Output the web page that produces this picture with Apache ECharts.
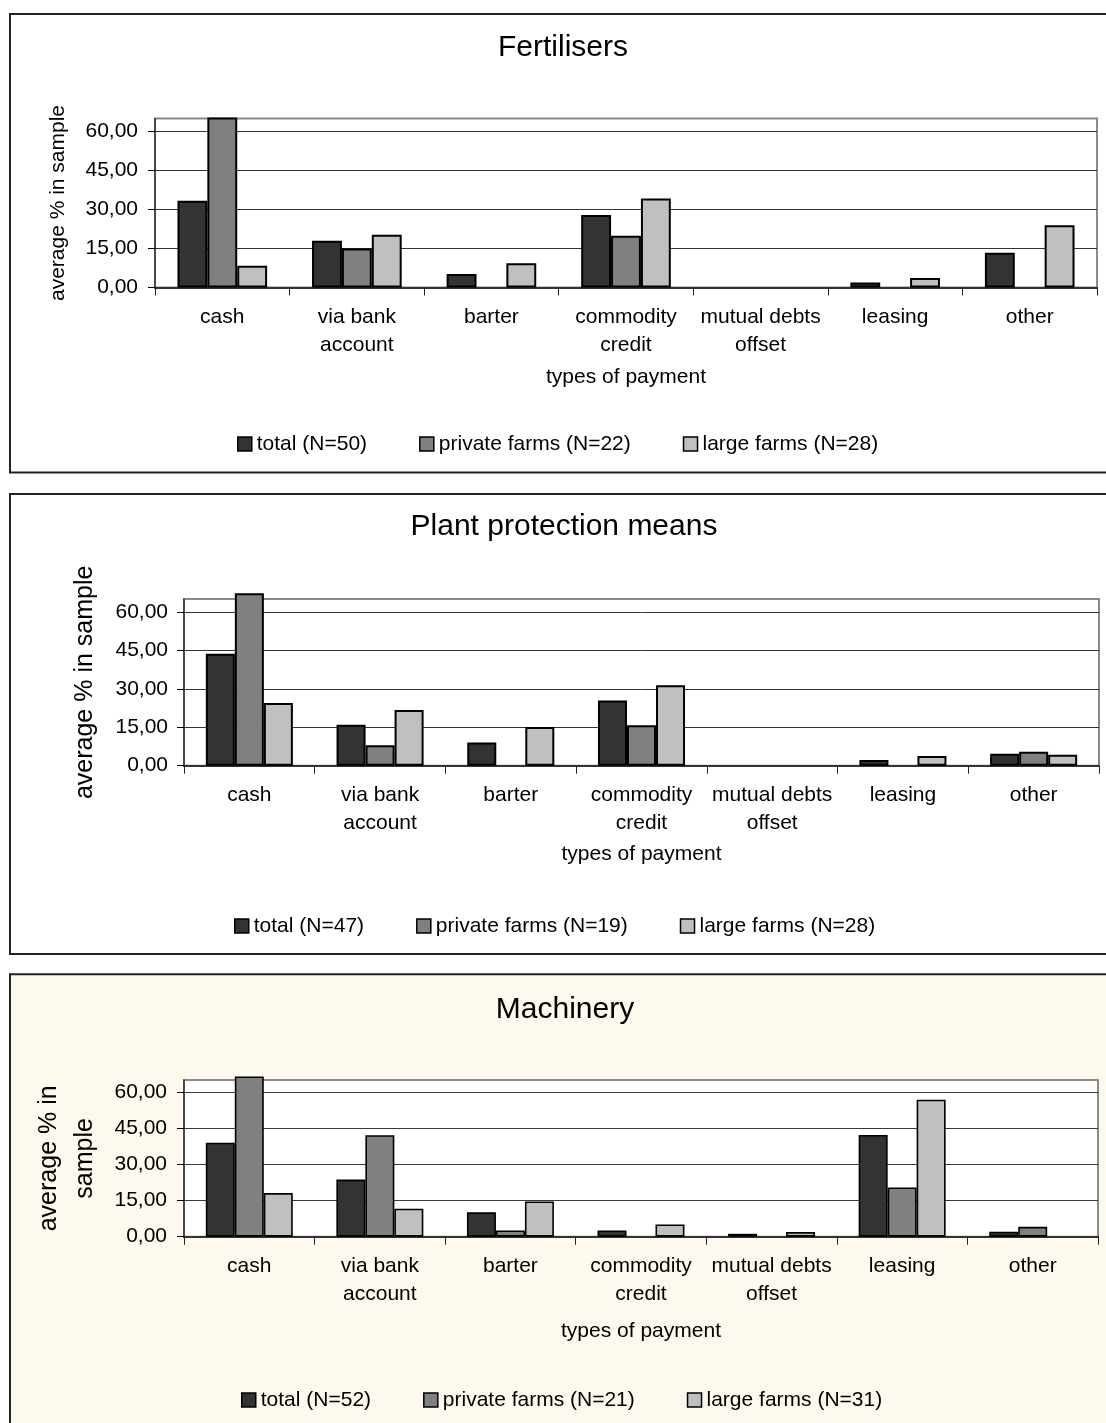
<!DOCTYPE html>
<html><head><meta charset="utf-8">
<script src="https://cdn.jsdelivr.net/npm/echarts@6/dist/echarts.min.js"></script>
<style>html,body{margin:0;padding:0;background:#fff;overflow:hidden}#c{width:1106px;height:1423px}</style>
</head><body><div id="c"></div>
<script>
// ---- data ----
const categories = ['cash', 'via bank\naccount', 'barter', 'commodity\ncredit', 'mutual debts\noffset', 'leasing', 'other'];
const yTicks = [0, 15, 30, 45, 60];
const xAxisTitle = 'types of payment';

const fertTitle = 'Fertilisers';
const fertNames = ['total (N=50)', 'private farms (N=22)', 'large farms (N=28)'];
const fertTotal = [33.4, 18.0, 5.2, 27.9, 0, 1.9, 13.4];
const fertPrivate = [65.4, 15.0, 0, 19.9, 0, 0, 0];
const fertLarge = [8.4, 20.3, 9.3, 34.2, 0, 3.7, 23.9];

const plantTitle = 'Plant protection means';
const plantNames = ['total (N=47)', 'private farms (N=19)', 'large farms (N=28)'];
const plantTotal = [43.7, 16.0, 9.0, 25.4, 0, 2.2, 4.7];
const plantPrivate = [67.2, 8.0, 0, 15.8, 0, 0, 5.4];
const plantLarge = [24.4, 21.7, 15.1, 31.4, 0, 3.8, 4.3];

const machTitle = 'Machinery';
const machNames = ['total (N=52)', 'private farms (N=21)', 'large farms (N=31)'];
const machTotal = [39.0, 23.7, 10.1, 2.6, 1.2, 42.2, 2.1];
const machPrivate = [66.5, 42.1, 2.6, 0, 0, 20.4, 4.1];
const machLarge = [18.1, 11.6, 14.6, 5.1, 1.9, 56.8, 0];

const yNameOneLine = 'average % in sample';
const yNameTwoLines = 'average % in\nsample';

// ---- layout / style ----
const FONT = '"Liberation Sans", Arial, sans-serif';
const seriesColors = ['#333333', '#808080', '#c0c0c0'];
const panels = [
  { title: fertTitle, names: fertNames, data: [fertTotal, fertPrivate, fertLarge],
    box: { x: 10, y: 14, h: 458.5 }, bg: '#ffffff',
    grid: { left: 155, top: 118.5, width: 942, height: 169 },
    titleX: 563, titleY: 48, legendLeft: 237, legendY: 444, barBorder: 2, gridColor: '#333',
    yName: yNameOneLine, yNameSize: 21, yNameGap: 85, yNameLH: 24, yLabelMargin: 17, xNameGap: 79 },
  { title: plantTitle, names: plantNames, data: [plantTotal, plantPrivate, plantLarge],
    box: { x: 10, y: 494, h: 460 }, bg: '#ffffff',
    grid: { left: 184, top: 599, width: 915, height: 166.7 },
    titleX: 564, titleY: 527, legendLeft: 234, legendY: 926, barBorder: 2, gridColor: '#333',
    yName: yNameOneLine, yNameSize: 25, yNameGap: 85, yNameLH: 28, yLabelMargin: 16, xNameGap: 78 },
  { title: machTitle, names: machNames, data: [machTotal, machPrivate, machLarge],
    box: { x: 10, y: 974.3, h: 480 }, bg: '#fef9ef',
    grid: { left: 184, top: 1080, width: 914, height: 156.7 },
    titleX: 565, titleY: 1010, legendLeft: 241, legendY: 1400, barBorder: 1.6, gridColor: '#3a3a3a',
    yName: yNameTwoLines, yNameSize: 25, yNameGap: 80, yNameLH: 36, yLabelMargin: 17, xNameGap: 84 }
];

const grid = [], xAxis = [], yAxis = [], series = [], legend = [], graphic = [];
panels.forEach((p, i) => {
  graphic.push({ type: 'rect', z: -10, silent: true,
    shape: { x: p.box.x, y: p.box.y, width: 1120, height: p.box.h },
    style: { fill: p.bg, stroke: '#222', lineWidth: 2 } });
  graphic.push({ type: 'text', z: 10, silent: true,
    style: { text: p.title, x: p.titleX, y: p.titleY, fill: '#000',
      font: '30px ' + FONT, textAlign: 'center', textVerticalAlign: 'middle' } });
  grid.push(Object.assign({ show: true, backgroundColor: '#ffffff', borderColor: '#8a8a8a', borderWidth: 2 }, p.grid));
  xAxis.push({ type: 'category', gridIndex: i, data: categories,
    axisLine: { show: true, lineStyle: { color: '#333', width: 2 } },
    axisTick: { show: true, length: 8, lineStyle: { color: '#222', width: 1 } },
    axisLabel: { interval: 0, fontSize: 21, lineHeight: 28, margin: 16, color: '#000', fontFamily: FONT },
    splitLine: { show: false },
    name: xAxisTitle, nameLocation: 'middle', nameGap: p.xNameGap,
    nameTextStyle: { fontSize: 21, color: '#000', fontFamily: FONT } });
  yAxis.push({ type: 'value', gridIndex: i, min: 0, max: 65, interval: 15,
    axisLine: { show: true, lineStyle: { color: '#333', width: 1.5 } },
    axisTick: { show: true, length: 7, customValues: yTicks, lineStyle: { color: '#000', width: 1 } },
    axisLabel: { customValues: yTicks, fontSize: 21, margin: p.yLabelMargin, color: '#000', fontFamily: FONT,
      formatter: v => v.toFixed(2).replace('.', ',') },
    splitLine: { show: true, lineStyle: { color: [p.gridColor, p.gridColor, p.gridColor, p.gridColor, p.gridColor, '#8a8a8a'], width: 1 } },
    name: p.yName, nameLocation: 'middle', nameGap: p.yNameGap, nameRotate: 90,
    nameTextStyle: { fontSize: p.yNameSize, lineHeight: p.yNameLH, color: '#000', fontFamily: FONT, align: 'center' } });
  p.data.forEach((vals, k) => {
    series.push({ type: 'bar', name: p.names[k], xAxisIndex: i, yAxisIndex: i,
      // zero shares are drawn as empty slots, as in the original chart
      data: vals.map(v => (v === 0 ? '-' : v)),
      barWidth: '22.2%', barGap: '0%', clip: false, silent: true,
      itemStyle: { color: seriesColors[k], borderColor: '#000', borderWidth: p.barBorder } });
  });
  legend.push({ data: p.names, left: p.legendLeft, top: p.legendY - 10.5, padding: 0,
    itemWidth: 14, itemHeight: 14, itemGap: 52, icon: 'rect', selectedMode: false,
    itemStyle: { borderColor: '#000', borderWidth: 1.5 },
    textStyle: { fontSize: 21, color: '#000', fontFamily: FONT } });
});

const chart = echarts.init(document.getElementById('c'), null, { renderer: 'canvas' });
chart.setOption({ animation: false, backgroundColor: '#ffffff', textStyle: { fontFamily: FONT },
  grid, xAxis, yAxis, series, legend, graphic });
</script></body></html>
